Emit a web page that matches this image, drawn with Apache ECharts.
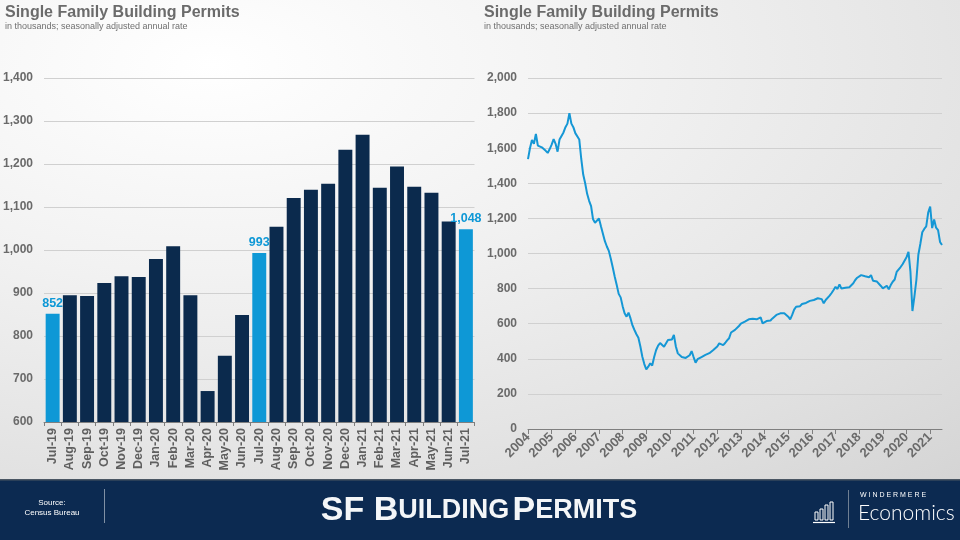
<!DOCTYPE html>
<html>
<head>
<meta charset="utf-8">
<script src="https://cdn.jsdelivr.net/npm/echarts@6/dist/echarts.min.js"></script>
<style>
html,body{margin:0;padding:0;width:960px;height:540px;overflow:hidden;
background:radial-gradient(ellipse 120% 110% at 22% 12%, #ffffff 0%, #f2f2f2 35%, #e0e0e0 75%, #d2d2d2 100%);}
#c{width:960px;height:540px;}
</style>
</head>
<body>
<div id="c"></div>
<script>
// ---- Left chart: monthly bars Jul-19 .. Jul-21 ----
const barCategories = ['Jul-19','Aug-19','Sep-19','Oct-19','Nov-19','Dec-19','Jan-20','Feb-20','Mar-20','Apr-20','May-20','Jun-20','Jul-20','Aug-20','Sep-20','Oct-20','Nov-20','Dec-20','Jan-21','Feb-21','Mar-21','Apr-21','May-21','Jun-21','Jul-21'];
const barValues = [852,895,893,923,939,937,979,1009,895,672,754,849,993,1054,1121,1140,1154,1233,1268,1145,1194,1147,1133,1066,1048];
const highlightBars = [0,12,24];
const barYTicks = [600,700,800,900,1000,1100,1200,1300,1400];

// ---- Right chart: monthly line Jan-2004 .. Jul-2021 ----
const lineStartYear = 2004;
const lineValues = [
 1538,1600,1647,1625,1681,1615,1625,1605,1600,1585,1573,1595,
 1620,1652,1625,1580,1650,1645,1690,1720,1740,1800,1740,1720,
 1686,1690,1650,1540,1450,1400,1340,1300,1270,1195,1175,1170,
 1200,1155,1145,1070,1040,1015,970,920,868,820,770,750,
 700,660,640,663,630,590,564,540,520,470,412,370,
 340,355,374,362,410,450,475,490,485,469,475,507,
 505,510,536,470,431,420,410,403,405,408,420,444,
 410,378,398,403,410,415,422,420,432,440,450,460,
 470,488,482,478,490,505,517,550,554,565,575,587,
 600,611,612,618,625,620,628,622,625,630,636,602,
 610,615,621,618,630,640,650,648,659,652,660,650,
 640,625,650,680,697,705,700,712,720,718,725,730,
 728,735,744,745,744,740,716,735,744,760,775,792,
 810,798,824,800,796,805,815,808,810,830,849,862,
 870,877,868,870,862,865,877,845,850,840,830,815,
 801,810,816,796,820,839,852,895,893,923,939,937,
 979,1009,895,672,754,849,993,1054,1121,1140,1154,1233,
 1268,1145,1194,1147,1133,1066,1048
];
const lineYTicks = [0,200,400,600,800,1000,1200,1400,1600,1800,2000];

const lineCategories = [];
for (let i = 0; i < lineValues.length; i++) {
  const y = lineStartYear + Math.floor(i / 12), m = i % 12 + 1;
  lineCategories.push(y + '-' + (m < 10 ? '0' + m : m));
}

const DARK = '#0b2a4d', BLUE = '#0e98d6', GRAY = '#6a6a6a';
const FONT = 'Liberation Sans, Arial, sans-serif';
const fmt = v => v.toLocaleString('en-US');

const barData = barValues.map((v, i) => {
  const hi = highlightBars.indexOf(i) >= 0;
  return {
    value: v,
    itemStyle: { color: hi ? BLUE : DARK },
    label: { show: hi }
  };
});

const chart = echarts.init(document.getElementById('c'));
chart.setOption({
  backgroundColor: 'transparent',
  animation: false,
  textStyle: { fontFamily: FONT },
  grid: [
    { left: 42.5, right: 960 - 474.5, top: 78, bottom: 540 - 422, containLabel: false },
    { left: 528, right: 960 - 942, top: 78, bottom: 540 - 429, containLabel: false }
  ],
  xAxis: [
    {
      gridIndex: 0, type: 'category', data: barCategories,
      axisLine: { lineStyle: { color: '#7f7f7f', width: 1 } },
      axisTick: { show: true, lineStyle: { color: '#7f7f7f' }, length: 4 },
      axisLabel: { rotate: 90, color: '#5f5f5f', fontWeight: 'bold', fontSize: 12.5, margin: 6, interval: 0 }
    },
    {
      gridIndex: 1, type: 'category', data: lineCategories, boundaryGap: false,
      axisLine: { lineStyle: { color: '#7f7f7f', width: 1 } },
      axisTick: { show: true, length: 5, lineStyle: { color: '#7f7f7f' }, interval: (i) => i % 12 === 0 },
      axisLabel: { rotate: 45, color: '#6a6a6a', fontWeight: 'bold', fontSize: 13, margin: 6,
        interval: (i) => i % 12 === 0, formatter: (v) => v.slice(0, 4) }
    }
  ],
  yAxis: [
    {
      gridIndex: 0, type: 'value', min: barYTicks[0], max: barYTicks[barYTicks.length - 1], interval: 100,
      axisLine: { show: false }, axisTick: { show: false },
      splitLine: { lineStyle: { color: '#d0d0d0', width: 1 } },
      axisLabel: { color: GRAY, fontWeight: 'bold', fontSize: 12, margin: 11, formatter: fmt }
    },
    {
      gridIndex: 1, type: 'value', min: lineYTicks[0], max: lineYTicks[lineYTicks.length - 1], interval: 200,
      axisLine: { show: false }, axisTick: { show: false },
      splitLine: { lineStyle: { color: '#d0d0d0', width: 1 } },
      axisLabel: { color: GRAY, fontWeight: 'bold', fontSize: 12, margin: 11, formatter: fmt }
    }
  ],
  series: [
    {
      type: 'bar', xAxisIndex: 0, yAxisIndex: 0, data: barData,
      barCategoryGap: '19%',
      label: { position: 'top', color: BLUE, fontWeight: 'bold', fontSize: 12.5, distance: 4,
        formatter: (p) => fmt(p.value) }
    },
    {
      type: 'line', xAxisIndex: 1, yAxisIndex: 1, data: lineValues,
      showSymbol: false, symbol: 'none',
      lineStyle: { color: '#1597d5', width: 2 }
    }
  ],
  graphic: [
    { type: 'text', left: 5, top: 5, style: { text: 'Single Family Building Permits', fill: '#6b6b6b', font: 'bold 16px ' + FONT } },
    { type: 'text', left: 5, top: 22, style: { text: 'in thousands; seasonally adjusted annual rate', fill: '#707070', font: '9px ' + FONT } },
    { type: 'text', left: 484, top: 5, style: { text: 'Single Family Building Permits', fill: '#6b6b6b', font: 'bold 16px ' + FONT } },
    { type: 'text', left: 484, top: 22, style: { text: 'in thousands; seasonally adjusted annual rate', fill: '#707070', font: '9px ' + FONT } },
    // footer band
    { type: 'rect', shape: { x: 0, y: 480, width: 960, height: 60 }, style: { fill: '#0c2a51' } },
    { type: 'rect', shape: { x: 0, y: 479, width: 960, height: 1.5 }, style: { fill: '#4a5663' } },
    { type: 'text', x: 52, y: 503, style: { text: 'Source:', fill: '#ffffff', font: '8px ' + FONT, align: 'center', verticalAlign: 'middle' } },
    { type: 'text', x: 52, y: 513, style: { text: 'Census Bureau', fill: '#ffffff', font: '8px ' + FONT, align: 'center', verticalAlign: 'middle' } },
    { type: 'line', shape: { x1: 104.5, y1: 489, x2: 104.5, y2: 523 }, style: { stroke: '#8090a4', lineWidth: 1 } },
    { type: 'text', x: 479, y: 511, style: {
        text: '{a|SF B}{b|UILDING} {a|P}{b|ERMITS}', align: 'center', verticalAlign: 'middle',
        rich: {
          a: { fill: '#f4f6f8', fontFamily: FONT, fontWeight: 'bold', fontSize: 34 },
          b: { fill: '#f4f6f8', fontFamily: FONT, fontWeight: 'bold', fontSize: 27 }
        } } },
    // logo icon
    { type: 'rect', shape: { x: 815, y: 512, width: 3, height: 8 }, style: { fill: 'none', stroke: '#ffffff', lineWidth: 1 } },
    { type: 'rect', shape: { x: 820, y: 509, width: 3, height: 11 }, style: { fill: 'none', stroke: '#ffffff', lineWidth: 1 } },
    { type: 'rect', shape: { x: 825, y: 505, width: 3, height: 15 }, style: { fill: 'none', stroke: '#ffffff', lineWidth: 1 } },
    { type: 'rect', shape: { x: 830, y: 502, width: 3, height: 18 }, style: { fill: 'none', stroke: '#ffffff', lineWidth: 1 } },
    { type: 'line', shape: { x1: 813, y1: 522.5, x2: 835, y2: 522.5 }, style: { stroke: '#ffffff', lineWidth: 1.2 } },
    { type: 'line', shape: { x1: 848.5, y1: 490, x2: 848.5, y2: 528 }, style: { stroke: '#6f7f93', lineWidth: 1 } },
    { type: 'text', left: 860, top: 492, style: { text: 'W I N D E R M E R E', fill: '#ffffff', font: '7px ' + FONT } },
    { type: 'text', left: 858, top: 503, style: { text: 'Economics', fill: '#ffffff', font: '300 21px Lato, Roboto, sans-serif' } }
  ]
});
</script>
</body>
</html>
